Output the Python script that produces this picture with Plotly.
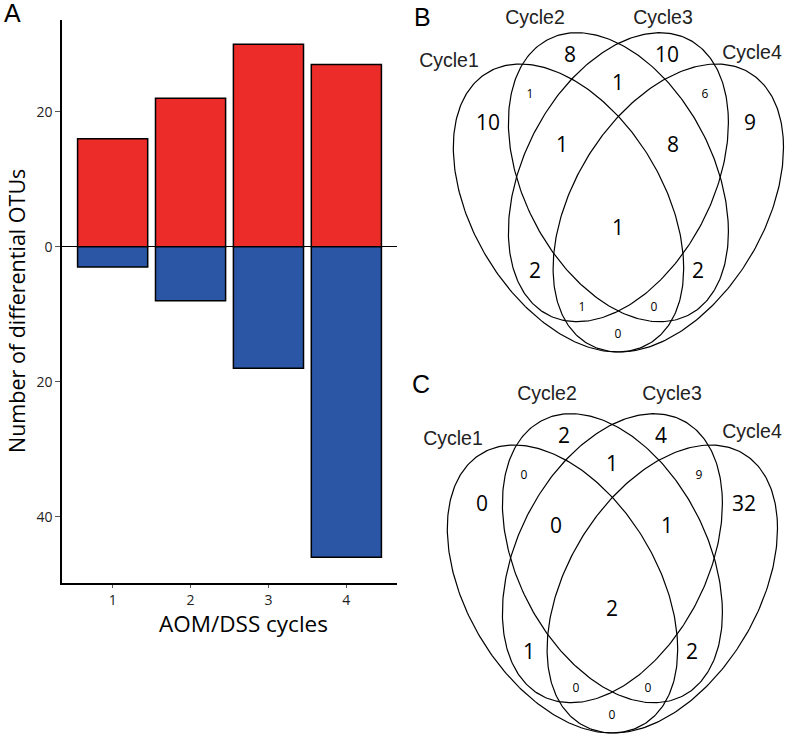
import numpy as np
import plotly.graph_objects as go

# ---- panel A: differential OTUs per AOM/DSS cycle ----
cycles = [1, 2, 3, 4]
otus_up = [16, 22, 30, 27]
otus_down = [3, 8, 18, 46]

# ---- panels B / C: 4-set Venn counts ----
set_names = ["Cycle1", "Cycle2", "Cycle3", "Cycle4"]
regions = ["1", "2", "3", "4", "12", "23", "34", "123", "234",
           "1234", "13", "24", "134", "124", "14"]
counts_b = [10, 8, 10, 9, 1, 1, 6, 1, 8, 1, 2, 2, 1, 0, 0]
counts_c = [0, 2, 4, 32, 0, 1, 9, 0, 1, 2, 1, 2, 0, 0, 0]

RED = "#ec2c29"
BLUE = "#2b56a5"
FIG_W, FIG_H = 788, 738

# Venn geometry in pixels (panel B frame): cx, cy, half-width, half-height, tilt
ELLIPSES = [
    (568.5, 208.0, 115.2, 144.0, 0.42),
    (618.4, 177.2, 110.0, 144.5, 0.377),
    (618.4, 177.2, 110.0, 144.5, -0.377),
    (668.3, 208.0, 115.2, 144.0, -0.42),
]
REGION_XY = {
    "1": (488, 125), "2": (570, 57), "3": (667, 57), "4": (750, 125),
    "12": (530, 95), "23": (618, 85), "34": (705, 95),
    "123": (562, 147), "234": (673, 147), "1234": (618, 230),
    "13": (535, 273), "24": (698, 273),
    "134": (582, 308), "124": (654, 308), "14": (618, 335),
}
SMALL = {"12", "34", "134", "124", "14"}
PANELS = {
    "B": dict(offset=(0, 0), counts=counts_b,
              labels=[(449, 62), (535, 19), (663, 19), (752, 54)]),
    "C": dict(offset=(-6, 381), counts=counts_c,
              labels=[(453, 440), (547, 395), (672, 395), (752, 433)]),
}


def ellipse_xy(cx, cy, w, h, rho, n=300):
    t = np.linspace(0, 2 * np.pi, n)
    x = cx + w * np.cos(t)
    y = cy + h * (rho * np.cos(t) + np.sqrt(1 - rho ** 2) * np.sin(t))
    return x, y


fig = go.Figure()

fig.add_trace(go.Bar(
    x=cycles, y=otus_up, width=0.9,
    marker=dict(color=RED, line=dict(color="black", width=1.5)),
))
fig.add_trace(go.Bar(
    x=cycles, y=[-v for v in otus_down], width=0.9,
    marker=dict(color=BLUE, line=dict(color="black", width=1.5)),
))

for name, p in PANELS.items():
    dx, dy = p["offset"]
    for cx, cy, w, h, rho in ELLIPSES:
        x, y = ellipse_xy(cx + dx, cy + dy, w, h, rho)
        fig.add_trace(go.Scatter(
            x=x, y=y, mode="lines", xaxis="x2", yaxis="y2",
            line=dict(color="black", width=1.2), hoverinfo="skip",
        ))
    for big in (True, False):
        keys = [r for r in regions if (r in SMALL) != big]
        fig.add_trace(go.Scatter(
            x=[REGION_XY[r][0] + dx for r in keys],
            y=[REGION_XY[r][1] + dy for r in keys],
            text=[str(p["counts"][regions.index(r)]) for r in keys],
            mode="text", xaxis="x2", yaxis="y2", cliponaxis=False,
            textfont=dict(family="Open Sans", size=21 if big else 12, color="#000"),
            hoverinfo="skip",
        ))
    fig.add_trace(go.Scatter(
        x=[xy[0] for xy in p["labels"]], y=[xy[1] for xy in p["labels"]],
        text=set_names, mode="text", xaxis="x2", yaxis="y2", cliponaxis=False,
        textfont=dict(family="Liberation Sans", size=19.5, color="#222"),
        hoverinfo="skip",
    ))


def px(x, y):
    return x / FIG_W, 1 - y / FIG_H


annotations = []
for letter, (lx, ly) in {"A": (12, 13), "B": (422, 17), "C": (421, 384)}.items():
    ax, ay = px(lx, ly)
    annotations.append(dict(
        text=letter, x=ax, y=ay, xref="paper", yref="paper", showarrow=False,
        xanchor="center", yanchor="middle",
        font=dict(family="Liberation Sans", size=25, color="black"),
    ))
ax, ay = px(243, 623)
annotations.append(dict(
    text="AOM/DSS cycles", x=ax, y=ay, xref="paper", yref="paper",
    showarrow=False, xanchor="center", yanchor="middle",
    font=dict(family="Open Sans", size=22.5, color="black"),
))
ax, ay = px(16, 311)
annotations.append(dict(
    text="Number of differential OTUs", x=ax, y=ay, xref="paper", yref="paper",
    showarrow=False, xanchor="center", yanchor="middle", textangle=-90,
    font=dict(family="Open Sans", size=21.5, color="black"),
))

fig.update_layout(
    width=FIG_W, height=FIG_H,
    margin=dict(l=0, r=0, t=0, b=0),
    paper_bgcolor="white", plot_bgcolor="rgba(0,0,0,0)",
    showlegend=False, barmode="relative", bargap=0.1,
    annotations=annotations,
    xaxis=dict(
        domain=[62 / FIG_W, 397 / FIG_W], range=[0.35, 4.65],
        tickvals=cycles, ticks="outside", ticklen=3, tickcolor="#555",
        showline=True, linecolor="black", linewidth=1.5,
        showgrid=False, zeroline=False,
        tickfont=dict(family="Open Sans", size=14, color="#222"),
    ),
    yaxis=dict(
        domain=[1 - 583 / FIG_H, 1 - 20 / FIG_H], range=[-49.8, 33.6],
        tickvals=[-40, -20, 0, 20], ticktext=["40", "20", "0", "20"],
        ticks="outside", ticklen=5, tickcolor="#555",
        showline=True, linecolor="black", linewidth=1.5,
        showgrid=False, zeroline=True, zerolinecolor="black", zerolinewidth=1.3,
        tickfont=dict(family="Open Sans", size=14, color="#222"),
    ),
    xaxis2=dict(domain=[0, 1], range=[0, FIG_W], anchor="y2", visible=False),
    yaxis2=dict(domain=[0, 1], range=[FIG_H, 0], anchor="x2", visible=False),
)

# drop the browser's default 8px body margin so the figure sits at (0, 0)
fig.write_html("out.html", config={"displayModeBar": False},
               post_script="document.body.style.margin='0';")
